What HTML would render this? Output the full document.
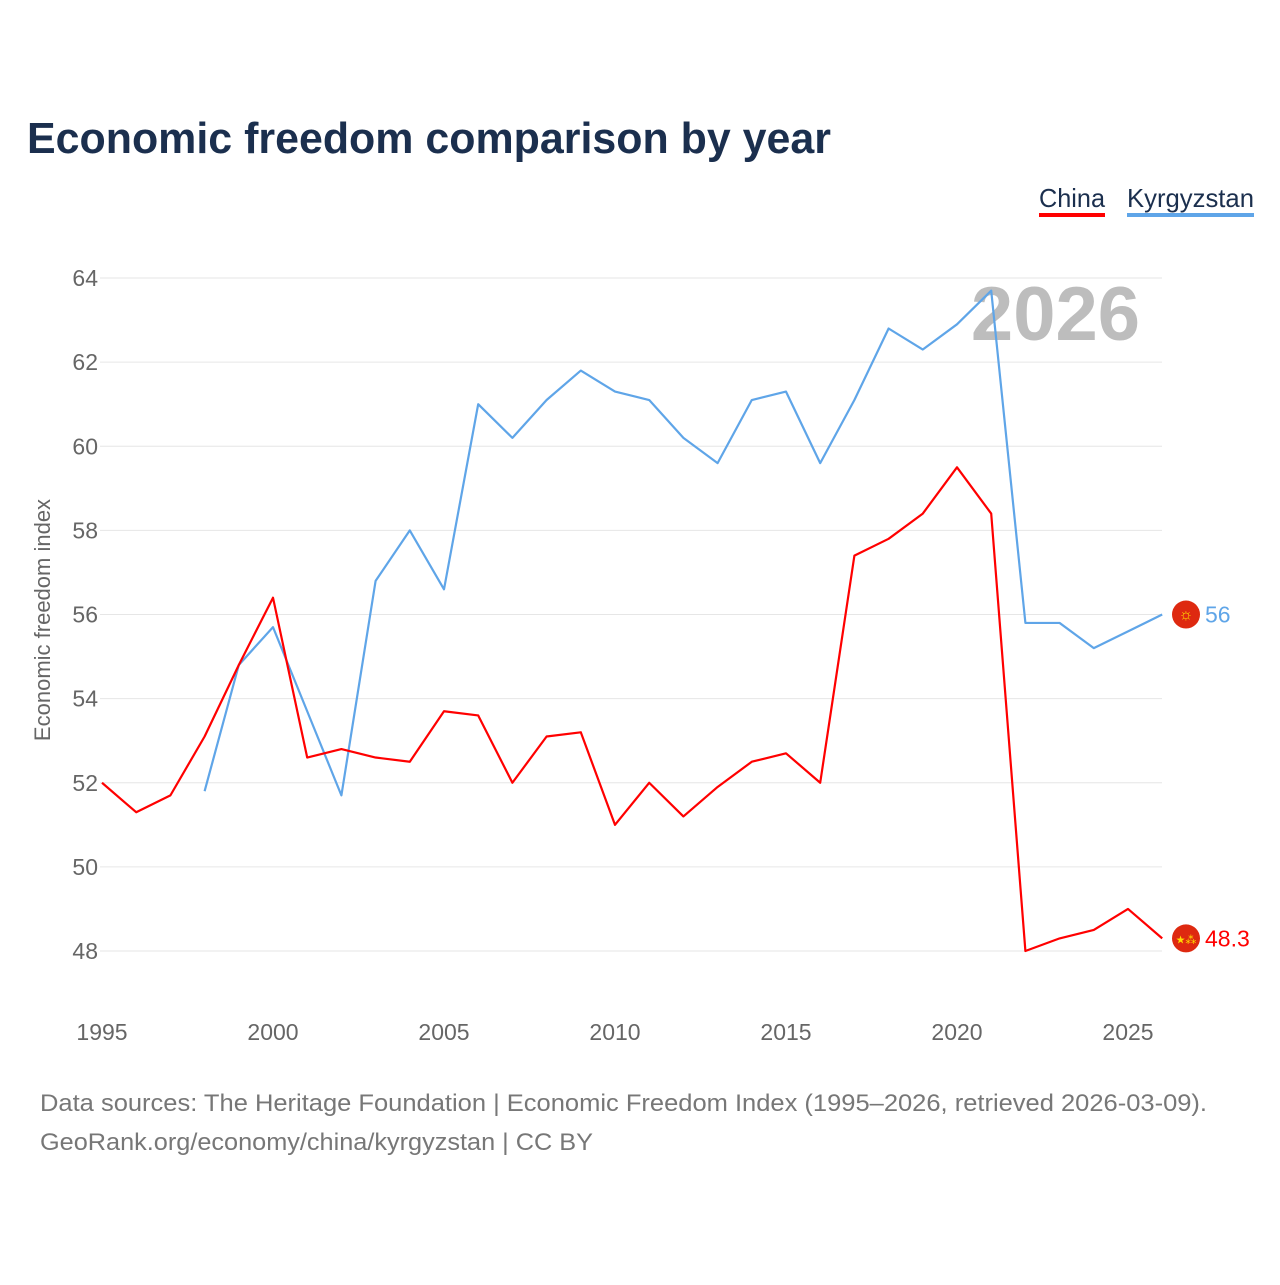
<!DOCTYPE html>
<html><head><meta charset="utf-8"><style>
body{margin:0;background:#fff;width:1280px;height:1280px;overflow:hidden;font-family:"Liberation Sans",sans-serif}
</style></head><body>
<svg width="1280" height="1280" xmlns="http://www.w3.org/2000/svg">
<text x="27" y="153" font-size="44" font-weight="bold" fill="#1b2f4e" textLength="804" lengthAdjust="spacingAndGlyphs">Economic freedom comparison by year</text>
<g>
<text x="1039" y="207" font-size="26" fill="#1b2f4e" textLength="66" lengthAdjust="spacingAndGlyphs">China</text>
<rect x="1039" y="213" width="66" height="4" fill="#ff0000"/>
<text x="1127" y="207" font-size="26" fill="#1b2f4e" textLength="127" lengthAdjust="spacingAndGlyphs">Kyrgyzstan</text>
<rect x="1127" y="213" width="127" height="4" fill="#5fa5e8"/>
</g>
<text x="1140" y="340" text-anchor="end" font-size="76" font-weight="bold" fill="#bdbdbd">2026</text>
<g id="grid"></g><g id="xt"></g>
<text transform="translate(50,620) rotate(-90)" text-anchor="middle" font-size="22" fill="#666">Economic freedom index</text>
<g id="lines"></g>
<text x="40" y="1111" font-size="24" fill="#777" textLength="1167" lengthAdjust="spacingAndGlyphs">Data sources: The Heritage Foundation | Economic Freedom Index (1995–2026, retrieved 2026-03-09).</text>
<text x="40" y="1150" font-size="24" fill="#777" textLength="553" lengthAdjust="spacingAndGlyphs">GeoRank.org/economy/china/kyrgyzstan | CC BY</text>
</svg>
<script>
const years=[1995,1996,1997,1998,1999,2000,2001,2002,2003,2004,2005,2006,2007,2008,2009,2010,2011,2012,2013,2014,2015,2016,2017,2018,2019,2020,2021,2022,2023,2024,2025,2026];
const china=[52.0,51.3,51.7,53.1,54.8,56.4,52.6,52.8,52.6,52.5,53.7,53.6,52.0,53.1,53.2,51.0,52.0,51.2,51.9,52.5,52.7,52.0,57.4,57.8,58.4,59.5,58.4,48.0,48.3,48.5,49.0,48.3];
const kyrgyzstan=[null,null,null,51.8,54.8,55.7,53.7,51.7,56.8,58.0,56.6,61.0,60.2,61.1,61.8,61.3,61.1,60.2,59.6,61.1,61.3,59.6,61.1,62.8,62.3,62.9,63.7,55.8,55.8,55.2,55.6,56.0];
const yTicks=[48,50,52,54,56,58,60,62,64];
const xTicks=[1995,2000,2005,2010,2015,2020,2025];
const NS="http://www.w3.org/2000/svg";
const X=y=>102+(y-1995)*34.2;
const Y=v=>951-(v-48)*42.06;
function el(t,a,p){const e=document.createElementNS(NS,t);for(const k in a)e.setAttribute(k,a[k]);p.appendChild(e);return e;}
const g=document.getElementById('grid');
yTicks.forEach(v=>{
 const l=el('line',{x1:100,x2:1162,y1:Y(v),y2:Y(v),stroke:'#e6e6e6','stroke-width':1},g);
 
 
 const t=el('text',{x:98,y:Y(v)+8,'text-anchor':'end','font-size':23,fill:'#666'},g);
 t.textContent=v;
 
 
});
const xt=document.getElementById('xt');
xTicks.forEach(v=>{
 const t=el('text',{x:X(v),y:1040,'text-anchor':'middle','font-size':23,fill:'#666'},xt);
 t.textContent=v;
 
 
});
const lg=document.getElementById('lines');
function series(vals,color,name,sym,symSize){
 let d='',pen=false;
 vals.forEach((v,i)=>{if(v==null){pen=false;return;}d+=(pen?'L':'M')+X(years[i])+','+Y(v);pen=true;});
 const p=el('path',{d:d,fill:'none',stroke:color,'stroke-width':2.2,'stroke-linejoin':'round'},lg);
 
 
 const last=vals[vals.length-1];
 const c=el('circle',{cx:1186,cy:Y(last),r:14,fill:'#de2910'},lg);
 
 
 const s=el('text',{x:1186,y:Y(last)+5,'text-anchor':'middle','font-size':symSize,fill:'#ffde00'},lg);
 s.textContent=sym;
 
 
 const t=el('text',{x:1205,y:Y(last)+8,'font-size':23,fill:color},lg);
 t.textContent=String(last);
 
 
}
series(kyrgyzstan,'#5fa5e8','kyrgyzstan','☼',16);
series(china,'#ff0000','china','★⁂',11);
</script>
</body></html>
